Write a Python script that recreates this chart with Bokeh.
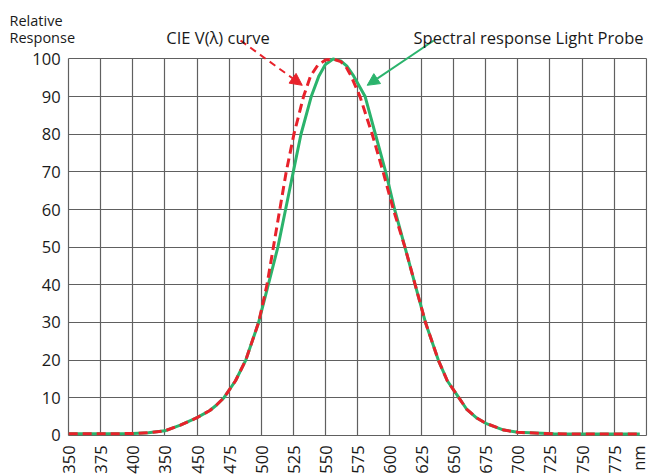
from bokeh.plotting import figure
from bokeh.models import Range1d, FixedTicker, Label, Arrow, NormalHead
from bokeh.embed import file_html
from bokeh.resources import INLINE

# ---- data ----
wl_probe = [350, 375, 400, 412, 425, 437, 450, 460, 465, 471, 480, 488, 498, 505.5, 513, 519, 525,
            531, 539, 545, 550, 556, 562, 567, 572, 581, 589, 597, 604, 612, 620, 628, 638, 645,
            654, 660, 668, 675, 689, 700, 728, 760, 795]
resp_probe = [0.4, 0.4, 0.5, 0.7, 1.2, 2.7, 4.7, 6.6, 8.0, 10, 14.5, 20, 30, 40, 50, 60, 70,
              80, 90, 95.5, 98.5, 100, 99.5, 98, 95.5, 90, 80, 70, 60, 50, 40, 30, 20, 14.5,
              10, 7, 4.6, 3.2, 1.4, 0.8, 0.4, 0.35, 0.35]

wl_cie = [350, 375, 400, 412, 425, 437, 450, 460, 465, 471, 480, 488, 498, 504.5, 509.5, 514.5,
          519.5, 525.5, 533, 538.5, 544, 550, 556, 562, 566, 570, 577, 586.5, 595, 603, 612, 620,
          628, 638, 645, 654, 660, 668, 675, 689, 700, 728, 760, 795]
resp_cie = [0.4, 0.4, 0.5, 0.7, 1.2, 2.7, 4.7, 6.6, 8.0, 10, 14.5, 20, 30, 40, 50, 60,
            70, 80, 90, 95.5, 98.3, 99.7, 100, 99.3, 98, 95.5, 90, 80, 70, 60, 50, 40,
            30, 20, 14.5, 10, 7, 4.6, 3.2, 1.4, 0.8, 0.4, 0.35, 0.35]

x_ticks = [350, 375, 400, 425, 450, 475, 500, 525, 550, 575, 600, 625, 650, 675, 700, 725, 750, 775, 800]
x_tick_labels = ["350", "375", "400", "350", "450", "475", "500", "525", "550", "575", "600",
                 "625", "650", "675", "700", "725", "750", "775", "nm"]
y_ticks = [0, 10, 20, 30, 40, 50, 60, 70, 80, 90, 100]

GREEN = "#2bb36c"
RED = "#e8222b"
GRID = "#606060"
TXT = "#1a1a1a"
FONT = "Open Sans"

p = figure(width=650, height=474, output_backend="svg", toolbar_location=None,
           x_range=Range1d(300, 801), y_range=Range1d(-10.4, 115.0),
           min_border_left=4, min_border_top=2, min_border_right=3, min_border_bottom=0,
           background_fill_color="white", border_fill_color="white")

p.outline_line_color = None

for ax in (p.xaxis[0], p.yaxis[0]):
    ax.axis_line_color = None
    ax.major_tick_line_color = None
    ax.minor_tick_line_color = None
    ax.major_tick_out = 0
    ax.major_tick_in = 0
    ax.major_label_text_font = FONT
    ax.major_label_text_font_size = "16.5px"
    ax.major_label_text_color = TXT

p.xaxis.ticker = FixedTicker(ticks=x_ticks)
p.xaxis.major_label_overrides = {t: l for t, l in zip(x_ticks, x_tick_labels)}
p.xaxis.major_label_orientation = 1.5707963
p.xaxis.major_label_standoff = 10
p.xaxis.fixed_location = 0
p.yaxis.ticker = FixedTicker(ticks=y_ticks)
p.yaxis.fixed_location = 350
p.yaxis.major_label_standoff = 8

p.xgrid.ticker = FixedTicker(ticks=x_ticks)
p.ygrid.ticker = FixedTicker(ticks=y_ticks)
p.xgrid.cross_bounds = (0, 100)
p.ygrid.cross_bounds = (350, 800)
for g in (p.xgrid[0], p.ygrid[0]):
    g.grid_line_color = GRID
    g.grid_line_width = 1.2

p.line(wl_probe, resp_probe, line_color=GREEN, line_width=3)
p.line(wl_cie, resp_cie, line_color=RED, line_width=3, line_dash="9 5")

# arrows
p.add_layout(Arrow(x_start=483.9, y_start=104.9, x_end=532.0, y_end=93.0,
                   line_color=RED, line_width=2, line_dash="7 5",
                   end=NormalHead(size=12, fill_color=RED, line_color=RED)))
p.add_layout(Arrow(x_start=634.5, y_start=104.9, x_end=582.6, y_end=93.0,
                   line_color=GREEN, line_width=2,
                   end=NormalHead(size=12, fill_color=GREEN, line_color=GREEN)))

# texts
p.add_layout(Label(x=466.4, y=105.7, text="CIE V(λ) curve", text_align="center",
                   text_baseline="alphabetic", text_font=FONT, text_font_size="16.5px",
                   text_color=TXT))
p.add_layout(Label(x=708.3, y=105.7, text="Spectral response Light Probe", text_align="center",
                   text_baseline="alphabetic", text_font=FONT, text_font_size="16.5px",
                   text_color=TXT))
p.add_layout(Label(x=303.9, y=110.3, text="Relative", text_align="left",
                   text_baseline="alphabetic", text_font=FONT, text_font_size="14.5px",
                   text_color=TXT))
p.add_layout(Label(x=303.9, y=105.6, text="Response", text_align="left",
                   text_baseline="alphabetic", text_font=FONT, text_font_size="14.5px",
                   text_color=TXT))

open("out.html", "w").write(file_html(p, INLINE))
